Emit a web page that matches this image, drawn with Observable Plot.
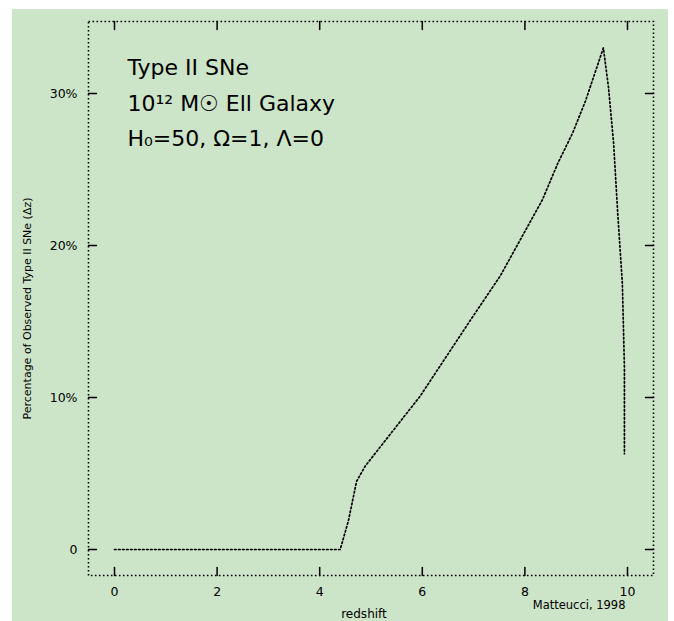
<!DOCTYPE html>
<html>
<head>
<meta charset="utf-8">
<script src="https://cdn.jsdelivr.net/npm/d3@7"></script>
<script src="https://cdn.jsdelivr.net/npm/@observablehq/plot@0.6"></script>
<style>
  html, body { margin: 0; padding: 0; background: #ffffff; }
  #chart { padding: 9px 0 0 12px; }
</style>
</head>
<body>
<div id="chart"></div>
<script>
// ---- data ----
const redshift = [0, 4.40, 4.56, 4.72, 4.89, 5.96, 6.94, 7.52, 8.34, 8.64, 8.93, 9.18, 9.43, 9.53, 9.63, 9.73, 9.81, 9.90, 9.94, 9.94];
const percent  = [0, 0,    1.9,  4.5,  5.5,  10.1, 15.1, 18.0, 23.0, 25.4, 27.4, 29.5, 32.0, 33.0, 30.4, 26.7, 22.1, 17.5, 12.0, 6.3];
const xTicks = [0, 2, 4, 6, 8, 10];
const yTicks = [0, 10, 20, 30];
const yTickLabels = ["0", "10%", "20%", "30%"];
const titleLines = ["Type II SNe", "10¹² M☉ Ell Galaxy", "H₀=50, Ω=1, Λ=0"];
const xLabel = "redshift";
const yLabel = "Percentage of Observed Type II SNe (Δz)";
const caption = "Matteucci, 1998";

const data = redshift.map((z, i) => ({z, p: percent[i]}));
const dots = "1.6,2.4";
const font = "DejaVu Sans, Verdana, sans-serif";

// straight tick shape for inward tick vectors
const tickShape = {draw(context, l) { context.moveTo(0, 0); context.lineTo(0, -l); }};
const tickOpts = {length: 8, anchor: "start", shape: tickShape, stroke: "black", strokeWidth: 1.5};

const chart = Plot.plot({
  width: 656,
  height: 612,
  marginLeft: 76,
  marginRight: 15,
  marginTop: 12,
  marginBottom: 46,
  style: {background: "#cce4c8", fontFamily: font, color: "black", overflow: "visible"},
  x: {domain: [-0.507, 10.507]},
  y: {domain: [-1.71, 34.74]},
  marks: [
    Plot.frame({stroke: "black", strokeWidth: 1.6, strokeDasharray: dots}),
    // tick labels
    Plot.axisX(xTicks, {anchor: "bottom", tickSize: 0, tickPadding: 12, fontSize: 12.5, label: null}),
    Plot.axisY(yTicks, {anchor: "left", tickSize: 0, tickPadding: 11, fontSize: 12.5, label: null,
      tickFormat: (d) => yTickLabels[yTicks.indexOf(d)]}),
    // inward ticks on all four sides
    Plot.vector(xTicks, {x: (d) => d, frameAnchor: "bottom", rotate: 0, ...tickOpts}),
    Plot.vector(xTicks, {x: (d) => d, frameAnchor: "top", rotate: 180, ...tickOpts}),
    Plot.vector(yTicks, {y: (d) => d, frameAnchor: "left", rotate: 90, ...tickOpts}),
    Plot.vector(yTicks, {y: (d) => d, frameAnchor: "right", rotate: -90, ...tickOpts}),
    // data
    Plot.line(data, {x: "z", y: "p", stroke: "black", strokeWidth: 1.7, strokeDasharray: dots}),
    // annotations
    Plot.text([titleLines.join("\n")], {frameAnchor: "top-left", dx: 39, dy: 29, lineAnchor: "top",
      textAnchor: "start", fontSize: 22, lineHeight: 1.6, letterSpacing: 1.5, fill: "black"}),
    Plot.text([xLabel], {frameAnchor: "bottom", dx: -7, dy: 42, fontSize: 12, fill: "black"}),
    Plot.text([yLabel], {frameAnchor: "left", textAnchor: "middle", rotate: -90, dx: -61, dy: 10, fontSize: 11, fill: "black"}),
    Plot.text([caption], {frameAnchor: "bottom-right", textAnchor: "end", dx: -28, dy: 33, fontSize: 11.5, letterSpacing: 0.5, fill: "black"})
  ]
});
document.getElementById("chart").appendChild(chart);
</script>
</body>
</html>
